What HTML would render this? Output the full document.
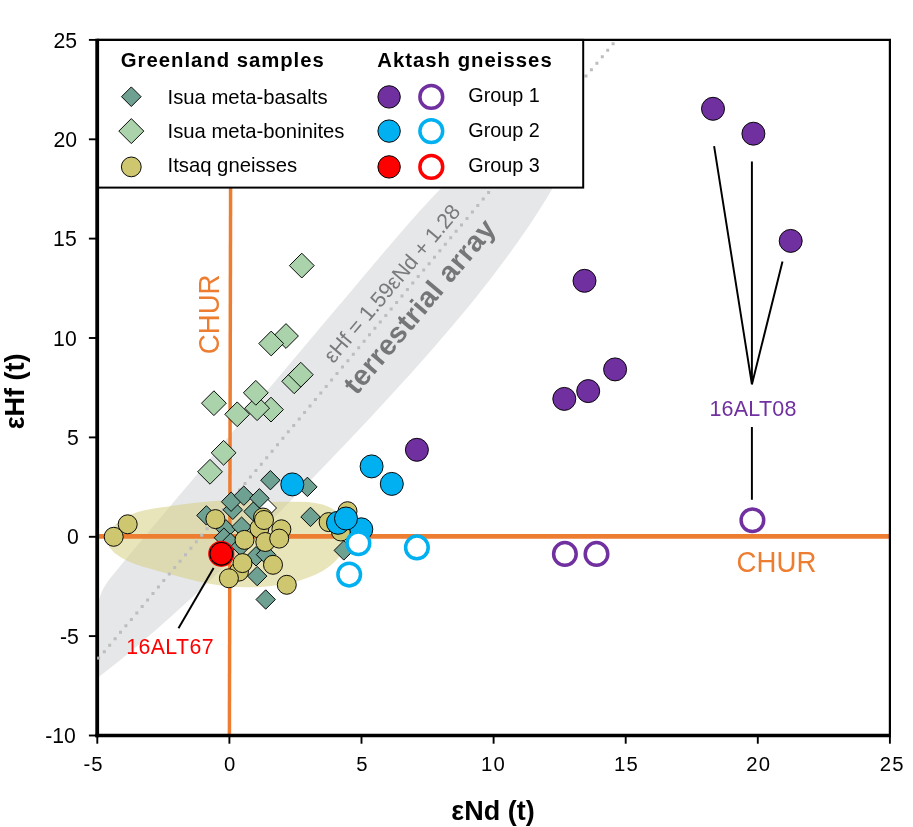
<!DOCTYPE html>
<html lang="en"><head><meta charset="utf-8"><title>εHf vs εNd</title>
<style>
html,body{margin:0;padding:0;background:#fff;}
body{width:913px;height:827px;overflow:hidden;}
svg{display:block;font-family:"Liberation Sans", Arial, Helvetica, sans-serif;}
.tk{font-size:20.3px;fill:#000;letter-spacing:1.2px;}
.lg{font-size:20.3px;fill:#000;}
.lh{font-size:20.3px;font-weight:bold;fill:#000;}
.ax{font-size:27px;font-weight:bold;fill:#000;}
.dd{fill:#6fa193;stroke:#000;stroke-width:0.95;}
.ld{fill:#aad3ac;stroke:#000;stroke-width:0.95;}
.yc{fill:#cfc770;stroke:#000;stroke-width:0.95;}
.pf{fill:#7030a0;stroke:#000;stroke-width:0.95;}
.bf{fill:#00b0f0;stroke:#000;stroke-width:0.95;}
.po{fill:#fff;stroke:#7030a0;stroke-width:3.5;}
.bo{fill:#fff;stroke:#00b0f0;stroke-width:3.5;}
.ro{fill:#fff;stroke:#ff0000;stroke-width:3.5;}
.ln{stroke:#000;stroke-width:1.95;fill:none;}
</style></head><body>
<svg width="913" height="827" viewBox="0 0 913 827">
<rect x="0" y="0" width="913" height="827" fill="#fff"/>
<defs><clipPath id="cp"><rect x="97.3" y="187" width="792.6" height="548.5"/></clipPath>
<clipPath id="cp2"><rect x="97.3" y="39.9" width="792.6" height="695.6"/></clipPath></defs>

<g clip-path="url(#cp)"><path fill="#e6e7e8" d="M96.0 617.3L96.6 612.6L97.4 608.0L98.3 603.5L99.3 599.1L100.6 595.0L102.1 591.1L104.0 587.4L106.1 584.0L108.4 580.6L110.8 577.5L113.3 574.4L115.9 571.3L118.4 568.2L121.0 565.1L123.5 562.0L126.1 559.0L128.6 555.9L129.9 554.3L139.5 542.8L149.2 531.3L158.8 519.8L168.4 508.3L178.1 496.8L187.7 485.4L197.4 473.9L207.0 462.4L216.6 450.9L226.3 439.4L235.9 427.9L245.6 416.4L255.2 404.9L264.9 393.4L274.5 382.0L284.2 370.5L293.8 359.0L303.5 347.5L313.2 336.1L322.8 324.6L332.5 313.1L342.2 301.7L351.9 290.2L361.5 278.7L371.2 267.3L380.9 255.8L390.6 244.4L400.4 233.0L410.2 221.7L420.2 210.4L430.4 199.5L440.8 188.6L451.4 178.0L462.3 167.5L561.5 172.6L556.5 181.5L551.4 190.3L546.2 198.9L540.9 207.5L535.4 216.0L529.9 224.4L524.2 232.7L518.5 241.0L512.7 249.1L506.8 257.3L500.8 265.3L494.8 273.3L488.7 281.2L482.5 289.1L476.3 296.9L470.0 304.7L463.6 312.4L457.2 320.1L450.8 327.7L444.3 335.3L437.7 342.9L431.2 350.4L424.6 358.0L417.9 365.4L411.3 372.9L404.6 380.3L397.8 387.7L391.1 395.1L384.3 402.5L377.5 409.8L370.7 417.2L363.8 424.5L357.0 431.8L350.1 439.1L343.2 446.3L336.3 453.6L329.4 460.8L322.4 468.1L315.5 475.3L308.5 482.5L301.5 489.7L294.5 496.8L287.5 504.0L280.5 511.2L273.4 518.3L266.3 525.4L259.2 532.5L252.1 539.6L245.0 546.6L237.8 553.7L230.6 560.7L223.4 567.7L216.1 574.6L208.8 581.6L201.5 588.5L194.2 595.4L186.8 602.2L179.3 609.0L171.9 615.8L164.3 622.5L156.7 629.2L149.1 635.8L141.4 642.4L133.6 649.0L125.8 655.4L117.9 661.9L109.9 668.2L101.9 674.5L93.7 680.7Z"/></g>
<path fill="#d3cb78" fill-opacity="0.5" d="M107.2 541.6L108.0 535.2L111.5 528.9L116.7 523.2L122.9 518.5L129.7 514.9L136.9 512.2L144.6 510.2L152.4 508.7L160.4 507.5L168.3 506.4L176.1 505.3L183.8 504.2L191.4 503.2L199.0 502.4L206.5 501.7L214.0 501.1L221.4 500.8L228.9 500.8L236.4 500.9L243.9 501.1L251.5 501.3L259.2 501.6L267.0 501.8L274.9 501.9L283.0 501.8L291.2 501.7L299.3 501.7L307.4 502.0L315.2 502.9L322.7 504.6L329.7 507.3L336.2 511.1L341.7 516.0L345.8 522.0L348.0 528.8L348.1 536.1L346.5 543.5L343.5 550.4L339.5 556.5L334.6 562.0L329.0 566.8L322.6 570.9L315.8 574.5L308.4 577.6L300.7 580.2L292.8 582.3L284.7 584.0L276.7 585.3L268.8 586.2L261.0 586.9L253.4 587.2L246.0 587.3L238.7 587.1L231.4 586.7L224.2 586.0L217.1 585.0L209.9 583.8L202.7 582.4L195.5 580.8L188.1 579.0L180.7 577.1L173.3 575.1L165.8 573.0L158.2 570.9L150.7 568.8L143.1 566.7L135.6 564.2L128.2 561.3L121.1 557.6L114.5 553.0L109.6 547.6Z"/>
<line x1="97.3" y1="536.4" x2="889.9" y2="536.4" stroke="#ed7d31" stroke-width="4.6"/>
<line x1="230.6" y1="187" x2="229.4" y2="735.5" stroke="#ed7d31" stroke-width="3.5"/>
<path fill="#bdbdbd" d="M611.6 42.3h3v3h-3zM606.2 48.8h3v3h-3zM600.8 55.2h3v3h-3zM595.4 61.7h3v3h-3zM589.9 68.2h3v3h-3zM584.5 74.6h3v3h-3zM579.1 81.1h3v3h-3zM573.7 87.6h3v3h-3zM568.3 94.0h3v3h-3zM562.9 100.5h3v3h-3zM557.5 107.0h3v3h-3zM552.1 113.4h3v3h-3zM546.6 119.9h3v3h-3zM541.2 126.4h3v3h-3zM535.8 132.8h3v3h-3zM530.4 139.3h3v3h-3zM525.0 145.8h3v3h-3zM519.6 152.2h3v3h-3zM514.2 158.7h3v3h-3zM508.8 165.2h3v3h-3zM503.3 171.6h3v3h-3zM497.9 178.1h3v3h-3zM492.5 184.6h3v3h-3zM487.1 191.0h3v3h-3zM481.7 197.5h3v3h-3zM476.3 204.0h3v3h-3zM470.9 210.4h3v3h-3zM465.5 216.9h3v3h-3zM460.0 223.4h3v3h-3zM454.6 229.8h3v3h-3zM449.2 236.3h3v3h-3zM443.8 242.8h3v3h-3zM438.4 249.2h3v3h-3zM433.0 255.7h3v3h-3zM427.6 262.2h3v3h-3zM422.2 268.6h3v3h-3zM416.7 275.1h3v3h-3zM411.3 281.6h3v3h-3zM405.9 288.0h3v3h-3zM400.5 294.5h3v3h-3zM395.1 301.0h3v3h-3zM389.7 307.4h3v3h-3zM384.3 313.9h3v3h-3zM378.8 320.4h3v3h-3zM373.4 326.8h3v3h-3zM368.0 333.3h3v3h-3zM362.6 339.8h3v3h-3zM357.2 346.2h3v3h-3zM351.8 352.7h3v3h-3zM346.4 359.2h3v3h-3zM341.0 365.6h3v3h-3zM335.5 372.1h3v3h-3zM330.1 378.6h3v3h-3zM324.7 385.1h3v3h-3zM319.3 391.5h3v3h-3zM313.9 398.0h3v3h-3zM308.5 404.5h3v3h-3zM303.1 410.9h3v3h-3zM297.7 417.4h3v3h-3zM292.2 423.9h3v3h-3zM286.8 430.3h3v3h-3zM281.4 436.8h3v3h-3zM276.0 443.3h3v3h-3zM270.6 449.7h3v3h-3zM265.2 456.2h3v3h-3zM259.8 462.7h3v3h-3zM254.4 469.1h3v3h-3zM248.9 475.6h3v3h-3zM243.5 482.1h3v3h-3zM238.1 488.5h3v3h-3zM232.7 495.0h3v3h-3zM227.3 501.5h3v3h-3zM221.9 507.9h3v3h-3zM216.5 514.4h3v3h-3zM211.1 520.9h3v3h-3zM205.6 527.3h3v3h-3zM200.2 533.8h3v3h-3zM194.8 540.3h3v3h-3zM189.4 546.7h3v3h-3zM184.0 553.2h3v3h-3zM178.6 559.7h3v3h-3zM173.2 566.1h3v3h-3zM167.8 572.6h3v3h-3zM162.3 579.1h3v3h-3zM156.9 585.5h3v3h-3zM151.5 592.0h3v3h-3zM146.1 598.5h3v3h-3zM140.7 604.9h3v3h-3zM135.3 611.4h3v3h-3zM129.9 617.9h3v3h-3zM124.4 624.3h3v3h-3zM119.0 630.8h3v3h-3zM113.6 637.3h3v3h-3zM108.2 643.7h3v3h-3zM102.8 650.2h3v3h-3z"/>
<g transform="translate(333.4,364.3) rotate(-49.9)"><text x="0" y="0" font-size="21.5" fill="#797a7c" textLength="199" lengthAdjust="spacing">εHf = 1.59εNd + 1.28</text></g>
<g transform="translate(356.5,396) rotate(-49.9)"><text x="0" y="0" font-size="28.5" font-weight="bold" fill="#757678" textLength="218" lengthAdjust="spacing">terrestrial array</text></g>
<path d="M257.5 508L267 498.5L276.5 508L267 517.5Z" fill="#fff" stroke="#000" stroke-width="1"/>
<path class="dd" d="M260.7 480.2L270.4 470.5L280.1 480.2L270.4 489.9Z"/>
<path class="dd" d="M297.7 486.9L307.4 477.2L317.1 486.9L307.4 496.6Z"/>
<path class="dd" d="M223.1 509.8L232.8 500.1L242.5 509.8L232.8 519.5Z"/>
<path class="dd" d="M243.8 511.5L253.5 501.8L263.2 511.5L253.5 521.2Z"/>
<path class="dd" d="M221.4 501.7L231.1 492.0L240.8 501.7L231.1 511.4Z"/>
<path class="dd" d="M234.1 495.7L243.8 486.0L253.5 495.7L243.8 505.4Z"/>
<path class="dd" d="M249.7 498.3L259.4 488.6L269.1 498.3L259.4 508.0Z"/>
<path class="dd" d="M300.8 516.9L310.5 507.2L320.2 516.9L310.5 526.6Z"/>
<path class="dd" d="M196.7 515.4L206.4 505.7L216.1 515.4L206.4 525.1Z"/>
<path class="dd" d="M216.2 529.3L225.9 519.6L235.6 529.3L225.9 539.0Z"/>
<path class="dd" d="M231.9 526.7L241.6 517.0L251.3 526.7L241.6 536.4Z"/>
<path class="dd" d="M214.2 537.7L223.9 528.0L233.6 537.7L223.9 547.4Z"/>
<path class="dd" d="M220.9 542.8L230.6 533.1L240.3 542.8L230.6 552.5Z"/>
<path class="dd" d="M231.1 546.2L240.8 536.5L250.5 546.2L240.8 555.9Z"/>
<path class="dd" d="M246.3 556.3L256.0 546.6L265.7 556.3L256.0 566.0Z"/>
<path class="dd" d="M256.3 554.6L266.0 544.9L275.7 554.6L266.0 564.3Z"/>
<path class="dd" d="M247.5 576.1L257.2 566.4L266.9 576.1L257.2 585.8Z"/>
<path class="dd" d="M256.0 599.5L265.7 589.8L275.4 599.5L265.7 609.2Z"/>
<path class="dd" d="M334.1 550.4L343.8 540.7L353.5 550.4L343.8 560.1Z"/>
<path class="ld" d="M289.4 265.6L301.8 253.2L314.2 265.6L301.8 278.0Z"/>
<path class="ld" d="M273.6 336.0L286.0 323.6L298.4 336.0L286.0 348.4Z"/>
<path class="ld" d="M258.8 343.5L271.2 331.1L283.6 343.5L271.2 355.9Z"/>
<path class="ld" d="M281.8 381.3L294.2 368.9L306.6 381.3L294.2 393.7Z"/>
<path class="ld" d="M288.4 374.7L300.8 362.3L313.2 374.7L300.8 387.1Z"/>
<path class="ld" d="M258.6 409.6L271.0 397.2L283.4 409.6L271.0 422.0Z"/>
<path class="ld" d="M244.7 408.2L257.1 395.8L269.5 408.2L257.1 420.6Z"/>
<path class="ld" d="M243.4 392.8L255.8 380.4L268.2 392.8L255.8 405.2Z"/>
<path class="ld" d="M224.8 414.3L237.2 401.9L249.6 414.3L237.2 426.7Z"/>
<path class="ld" d="M201.5 403.2L213.9 390.8L226.3 403.2L213.9 415.6Z"/>
<path class="ld" d="M211.2 452.8L223.6 440.4L236.0 452.8L223.6 465.2Z"/>
<path class="ld" d="M197.6 471.8L210.0 459.4L222.4 471.8L210.0 484.2Z"/>
<circle class="yc" cx="127.7" cy="524.3" r="9.5"/>
<circle class="yc" cx="113.7" cy="536.8" r="9.5"/>
<circle class="yc" cx="215.4" cy="519.1" r="9.5"/>
<circle class="yc" cx="259.4" cy="528.4" r="9.5"/>
<circle class="yc" cx="263.0" cy="517.5" r="9.5"/>
<circle class="yc" cx="264.0" cy="520.0" r="9.5"/>
<circle class="yc" cx="281.4" cy="529.3" r="9.5"/>
<circle class="yc" cx="244.5" cy="539.9" r="9.5"/>
<circle class="yc" cx="265.3" cy="542.0" r="9.5"/>
<circle class="yc" cx="279.2" cy="538.6" r="9.5"/>
<circle class="yc" cx="239.0" cy="571.6" r="9.5"/>
<circle class="yc" cx="242.5" cy="563.1" r="9.5"/>
<circle class="yc" cx="273.0" cy="564.8" r="9.5"/>
<circle class="yc" cx="228.9" cy="578.3" r="9.5"/>
<circle class="yc" cx="286.8" cy="584.8" r="9.5"/>
<circle class="yc" cx="347.5" cy="511.2" r="9.5"/>
<circle class="yc" cx="328.6" cy="522.1" r="9.5"/>
<circle class="yc" cx="340.9" cy="531.5" r="9.5"/>
<circle class="ro" cx="221.3" cy="553.8" r="11.4"/>
<circle cx="221.3" cy="553.8" r="11.3" fill="#ff0000" stroke="#000" stroke-width="1.2"/>
<circle class="bf" cx="292.3" cy="484.4" r="11.5"/>
<circle class="bf" cx="371.6" cy="466.4" r="11.5"/>
<circle class="bf" cx="391.8" cy="483.9" r="11.5"/>
<circle class="bf" cx="361.3" cy="529.3" r="11.5"/>
<circle class="bf" cx="338.0" cy="522.8" r="11.5"/>
<circle class="bf" cx="346.0" cy="518.5" r="11.5"/>
<circle class="bo" cx="358.4" cy="543.3" r="11.3"/>
<circle class="bo" cx="416.9" cy="547.4" r="11.3"/>
<circle class="bo" cx="349.2" cy="574.6" r="11.3"/>
<circle class="pf" cx="416.9" cy="449.8" r="11.5"/>
<circle class="pf" cx="713.0" cy="108.8" r="11.5"/>
<circle class="pf" cx="753.4" cy="133.7" r="11.5"/>
<circle class="pf" cx="790.7" cy="240.9" r="11.5"/>
<circle class="pf" cx="584.5" cy="280.8" r="11.5"/>
<circle class="pf" cx="615.1" cy="369.4" r="11.5"/>
<circle class="pf" cx="588.2" cy="391.1" r="11.5"/>
<circle class="pf" cx="564.3" cy="398.9" r="11.5"/>
<circle class="po" cx="752.4" cy="520.2" r="11.3"/>
<circle class="po" cx="564.9" cy="553.9" r="11.3"/>
<circle class="po" cx="596.5" cy="553.9" r="11.3"/>
<path class="ln" d="M213.6 567.9L178.5 628.3"/>
<path class="ln" d="M714.1 146.1L751.9 384.4M751.9 161.6L751.9 384.4M782.5 261.6L751.9 384.4M751.9 426.9L751.9 499.8"/>
<text x="126.2" y="653.8" font-size="21.3" fill="#ff0000" textLength="87.3" lengthAdjust="spacing">16ALT67</text>
<text x="709.4" y="416" font-size="21.5" fill="#7030a0" textLength="87" lengthAdjust="spacing">16ALT08</text>
<g transform="translate(736.6,571.7) scale(1,1.08)"><text x="0" y="0" font-size="27.6" fill="#ed7d31">CHUR</text></g>
<g transform="translate(218.9,354.2) rotate(-90) scale(1,1.08)"><text x="0" y="0" font-size="27.6" fill="#ed7d31">CHUR</text></g>
<rect x="97.3" y="39.9" width="485.90000000000003" height="147.7" fill="#fff" stroke="#000" stroke-width="2"/>
<text class="lh" x="120.8" y="67.4" textLength="203" lengthAdjust="spacing">Greenland samples</text>
<text class="lh" x="377.2" y="67.4" textLength="174.5" lengthAdjust="spacing">Aktash gneisses</text>
<path class="dd" d="M121.5 96.7L131.3 86.9L141.1 96.7L131.3 106.5Z"/>
<path class="ld" d="M118.8 131.1L131.3 118.6L143.8 131.1L131.3 143.6Z"/>
<circle class="yc" cx="131.3" cy="166.9" r="9.9"/>
<text class="lg" x="167.5" y="103.7">Isua meta-basalts</text>
<text class="lg" x="167.5" y="138.3">Isua meta-boninites</text>
<text class="lg" x="167.5" y="171.6">Itsaq gneisses</text>
<circle class="pf" cx="389.1" cy="96.9" r="11.2"/>
<circle class="po" cx="431.3" cy="96.9" r="11.4"/>
<circle class="bf" cx="389.1" cy="131.1" r="11.2"/>
<circle class="bo" cx="431.3" cy="131.1" r="11.4"/>
<circle cx="389.1" cy="166.9" r="11.2" fill="#ff0000" stroke="#000" stroke-width="1"/>
<circle class="ro" cx="431.3" cy="166.9" r="11.4"/>
<text class="lg" style="font-size:19.8px" x="468.3" y="102">Group 1</text>
<text class="lg" style="font-size:19.8px" x="468.3" y="136.8">Group 2</text>
<text class="lg" style="font-size:19.8px" x="468.3" y="171.8">Group 3</text>
<path d="M97.3 39.9L889.9 39.9L889.9 735.5" fill="none" stroke="#000" stroke-width="2.2"/>
<path d="M97.2 38.8L97.2 737.2" fill="none" stroke="#000" stroke-width="3.8"/>
<path d="M95.3 735.5L890.9 735.5" fill="none" stroke="#000" stroke-width="3.4"/>
<path fill="#b0b0b0" d="M97.1 656.6h3v3h-3z"/>
<line x1="97.3" y1="735.5" x2="97.3" y2="743.7" stroke="#000" stroke-width="1.9"/>
<text class="tk" x="93.6" y="770.8" text-anchor="middle">-5</text>
<line x1="229.4" y1="735.5" x2="229.4" y2="743.7" stroke="#000" stroke-width="1.9"/>
<text class="tk" x="230.3" y="770.8" text-anchor="middle">0</text>
<line x1="361.5" y1="735.5" x2="361.5" y2="743.7" stroke="#000" stroke-width="1.9"/>
<text class="tk" x="362.4" y="770.8" text-anchor="middle">5</text>
<line x1="493.6" y1="735.5" x2="493.6" y2="743.7" stroke="#000" stroke-width="1.9"/>
<text class="tk" x="493.5" y="770.8" text-anchor="middle">10</text>
<line x1="625.7" y1="735.5" x2="625.7" y2="743.7" stroke="#000" stroke-width="1.9"/>
<text class="tk" x="626.6" y="770.8" text-anchor="middle">15</text>
<line x1="757.8" y1="735.5" x2="757.8" y2="743.7" stroke="#000" stroke-width="1.9"/>
<text class="tk" x="758.7" y="770.8" text-anchor="middle">20</text>
<line x1="889.9" y1="735.5" x2="889.9" y2="743.7" stroke="#000" stroke-width="1.9"/>
<text class="tk" x="892.3" y="770.8" text-anchor="middle">25</text>
<line x1="88.89999999999999" y1="735.5" x2="97.3" y2="735.5" stroke="#000" stroke-width="1.9"/>
<text class="tk" style="font-size:21.2px;letter-spacing:0" x="75.8" y="743.1" text-anchor="end">-10</text>
<line x1="88.89999999999999" y1="636.1" x2="97.3" y2="636.1" stroke="#000" stroke-width="1.9"/>
<text class="tk" style="font-size:21.2px;letter-spacing:0" x="78.9" y="643.7" text-anchor="end">-5</text>
<line x1="88.89999999999999" y1="536.8" x2="97.3" y2="536.8" stroke="#000" stroke-width="1.9"/>
<text class="tk" style="font-size:21.2px;letter-spacing:0" x="78.9" y="544.4" text-anchor="end">0</text>
<line x1="88.89999999999999" y1="437.4" x2="97.3" y2="437.4" stroke="#000" stroke-width="1.9"/>
<text class="tk" style="font-size:21.2px;letter-spacing:0" x="78.9" y="445.0" text-anchor="end">5</text>
<line x1="88.89999999999999" y1="338.0" x2="97.3" y2="338.0" stroke="#000" stroke-width="1.9"/>
<text class="tk" style="font-size:21.2px;letter-spacing:0" x="76.7" y="345.6" text-anchor="end">10</text>
<line x1="88.89999999999999" y1="238.6" x2="97.3" y2="238.6" stroke="#000" stroke-width="1.9"/>
<text class="tk" style="font-size:21.2px;letter-spacing:0" x="76.7" y="246.2" text-anchor="end">15</text>
<line x1="88.89999999999999" y1="139.3" x2="97.3" y2="139.3" stroke="#000" stroke-width="1.9"/>
<text class="tk" style="font-size:21.2px;letter-spacing:0" x="77.1" y="146.9" text-anchor="end">20</text>
<line x1="88.89999999999999" y1="39.9" x2="97.3" y2="39.9" stroke="#000" stroke-width="1.9"/>
<text class="tk" style="font-size:21.2px;letter-spacing:0" x="77.1" y="47.5" text-anchor="end">25</text>
<text class="ax" x="493" y="819.5" text-anchor="middle">εNd (t)</text>
<g transform="translate(23.9,391.3) rotate(-90)"><text class="ax" x="0" y="0" text-anchor="middle">εHf (t)</text></g>
</svg></body></html>
